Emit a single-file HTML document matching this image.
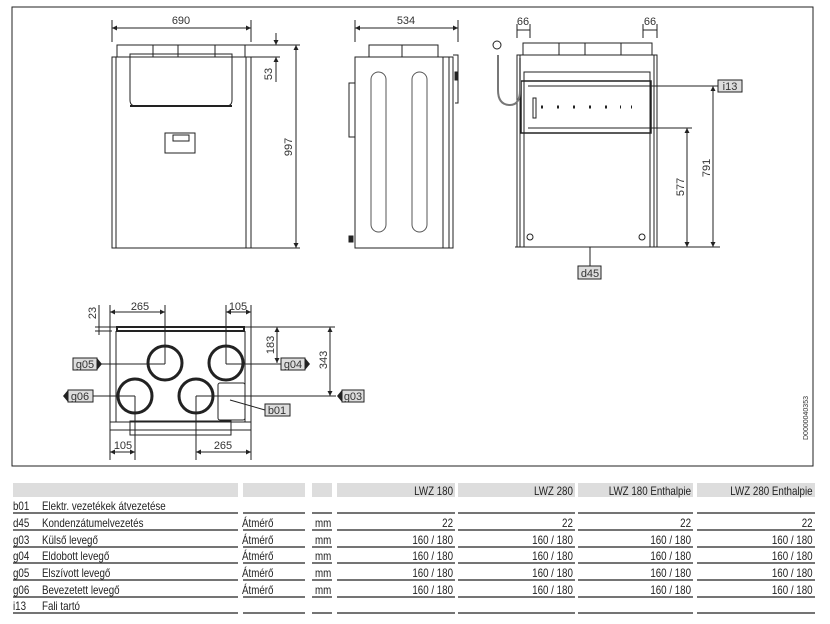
<!DOCTYPE html>
<html><head><meta charset="utf-8"><style>
body{margin:0;background:#fff;width:830px;height:624px;overflow:hidden}
svg{position:absolute;left:0;top:0}
.t{font-family:"Liberation Sans",sans-serif;font-size:11.5px;fill:#222}
.d{font-family:"Liberation Sans",sans-serif;font-size:11px;fill:#333}
</style></head><body>
<svg width="830" height="624" viewBox="0 0 830 624" xmlns="http://www.w3.org/2000/svg">
<defs><marker id="a" viewBox="0 0 6 6" refX="6" refY="3" markerWidth="5" markerHeight="5" orient="auto-start-reverse"><path d="M0,0L6,3L0,6z" fill="#222"/></marker></defs>
<g fill="none" stroke="#222" stroke-width="1">
<rect x="12" y="7" width="801" height="459"/>
<rect x="117" y="45" width="128" height="12"/>
<line x1="153" y1="45" x2="153" y2="57"/><line x1="178" y1="45" x2="178" y2="57"/><line x1="215" y1="45" x2="215" y2="57"/>
<rect x="112" y="57" width="139" height="191"/>
<line x1="116" y1="57" x2="116" y2="248"/><line x1="246" y1="57" x2="246" y2="248"/>
<path d="M130,54H232V100Q232,106 226,106H136Q130,106 130,100Z"/>
<line x1="130" y1="106" x2="232" y2="106" stroke-width="2"/>
<rect x="165" y="133" width="30" height="20"/><rect x="173" y="135" width="16" height="6"/>
<line x1="112" y1="20" x2="112" y2="42"/><line x1="251" y1="20" x2="251" y2="42"/>
<line x1="112" y1="28" x2="251" y2="28" marker-start="url(#a)" marker-end="url(#a)"/>
<line x1="245" y1="45" x2="300" y2="45"/><line x1="251" y1="57" x2="280" y2="57"/>
<line x1="276" y1="33" x2="276" y2="45" marker-end="url(#a)"/><line x1="276" y1="82" x2="276" y2="57" marker-end="url(#a)"/>
<line x1="251" y1="248" x2="300" y2="248"/>
<line x1="296" y1="45" x2="296" y2="248" marker-start="url(#a)" marker-end="url(#a)"/>
<rect x="369" y="45" width="69" height="12"/><line x1="402" y1="45" x2="402" y2="57"/>
<rect x="355" y="57" width="88" height="191"/>
<rect x="443" y="57" width="6" height="191"/><rect x="449" y="57" width="4" height="191"/>
<path d="M453,55H458V103H455"/>
<rect x="455" y="72" width="3" height="8" fill="#222"/>
<rect x="349" y="83" width="6" height="54"/>
<rect x="349" y="236" width="4" height="6" fill="#222"/>
<rect x="371" y="72" width="15" height="160" rx="7.5" stroke="#555"/>
<rect x="412" y="72" width="15" height="160" rx="7.5" stroke="#555"/>
<line x1="355" y1="20" x2="355" y2="42"/><line x1="458" y1="20" x2="458" y2="42"/>
<line x1="355" y1="28" x2="458" y2="28" marker-start="url(#a)" marker-end="url(#a)"/>
<rect x="523" y="43" width="129" height="12"/>
<line x1="559" y1="43" x2="559" y2="55"/><line x1="585" y1="43" x2="585" y2="55"/><line x1="621" y1="43" x2="621" y2="55"/>
<rect x="517" y="55" width="140" height="192"/>
<line x1="520" y1="55" x2="520" y2="247"/><line x1="654" y1="55" x2="654" y2="247"/>
<rect x="524" y="72" width="126" height="175"/>
<rect x="521" y="81" width="130" height="52" stroke-width="1.5"/>
<line x1="528" y1="86" x2="645" y2="86"/><line x1="528" y1="128" x2="645" y2="128"/>
<rect x="533" y="98" width="3" height="20"/>
<path d="M541,107h2M557,107h2M573,107h2M589,107h2M605,107h2M620,107h1M631,107h1" stroke-width="3"/>
<circle cx="530" cy="237" r="3"/><circle cx="642" cy="237" r="3"/>
<path d="M520,58V90Q520,105 510,105Q498,105 498,90V55" stroke="#777" stroke-width="2"/>
<circle cx="497" cy="45" r="4"/>
<line x1="517" y1="24" x2="517" y2="38"/><line x1="530" y1="24" x2="530" y2="38"/>
<line x1="517" y1="30" x2="530" y2="30"/>
<line x1="643" y1="24" x2="643" y2="38"/><line x1="657" y1="24" x2="657" y2="38"/>
<line x1="643" y1="30" x2="657" y2="30"/>
<line x1="515" y1="247" x2="720" y2="247"/>
<line x1="645" y1="86" x2="718" y2="86"/><line x1="640" y1="128" x2="692" y2="128"/>
<line x1="687" y1="128" x2="687" y2="247" marker-start="url(#a)" marker-end="url(#a)"/>
<line x1="713" y1="86" x2="713" y2="247" marker-start="url(#a)" marker-end="url(#a)"/>
<line x1="590" y1="247" x2="590" y2="266"/>
<rect x="110" y="327" width="141" height="103"/>
<line x1="116" y1="331" x2="116" y2="422"/><line x1="245" y1="331" x2="245" y2="422"/>
<rect x="117" y="327" width="127" height="4" stroke-width="2"/>
<line x1="110" y1="422" x2="251" y2="422"/>
<rect x="130" y="421" width="101" height="14"/>
<g stroke-width="3"><circle cx="165" cy="363" r="17"/><circle cx="226" cy="363" r="17"/><circle cx="135" cy="396" r="17"/><circle cx="196" cy="396" r="17"/></g>
<rect x="218" y="383" width="27" height="37" rx="2"/>
<line x1="98" y1="364" x2="165" y2="364"/><line x1="165" y1="305" x2="165" y2="364"/>
<line x1="226" y1="305" x2="226" y2="364"/><line x1="226" y1="364" x2="281" y2="364"/>
<line x1="93" y1="396" x2="135" y2="396"/><line x1="135" y1="396" x2="135" y2="460"/>
<line x1="196" y1="396" x2="336" y2="396"/><line x1="196" y1="396" x2="196" y2="460"/>
<line x1="230" y1="400" x2="265" y2="410"/>
<line x1="110" y1="305" x2="110" y2="460"/><line x1="251" y1="305" x2="251" y2="460"/>
<line x1="110" y1="312" x2="165" y2="312" marker-start="url(#a)" marker-end="url(#a)"/>
<line x1="226" y1="312" x2="251" y2="312" marker-start="url(#a)" marker-end="url(#a)"/>
<line x1="110" y1="452" x2="135" y2="452" marker-start="url(#a)" marker-end="url(#a)"/>
<line x1="196" y1="452" x2="251" y2="452" marker-start="url(#a)" marker-end="url(#a)"/>
<line x1="95" y1="327" x2="335" y2="327"/><line x1="95" y1="331" x2="112" y2="331"/>
<line x1="99" y1="305" x2="99" y2="335"/>
<line x1="277" y1="327" x2="277" y2="363" marker-start="url(#a)" marker-end="url(#a)"/>
<line x1="330" y1="327" x2="330" y2="396" marker-start="url(#a)" marker-end="url(#a)"/>
<g stroke="#222" stroke-width="1.3">
<path d="M13,513H238M243,513H305M312,513H332M337,513H455M458,513H575M578,513H693M697,513H815"/>
<path d="M13,530H238M243,530H305M312,530H332M337,530H455M458,530H575M578,530H693M697,530H815"/>
<path d="M13,547H238M243,547H305M312,547H332M337,547H455M458,547H575M578,547H693M697,547H815"/>
<path d="M13,563H238M243,563H305M312,563H332M337,563H455M458,563H575M578,563H693M697,563H815"/>
<path d="M13,580H238M243,580H305M312,580H332M337,580H455M458,580H575M578,580H693M697,580H815"/>
<path d="M13,597H238M243,597H305M312,597H332M337,597H455M458,597H575M578,597H693M697,597H815"/>
<path d="M13,613H238M243,613H305M312,613H332M337,613H455M458,613H575M578,613H693M697,613H815"/>
</g>
</g>
<g fill="#ddd" stroke="#222">
<rect x="718" y="80" width="24" height="12"/><rect x="578" y="266" width="23" height="13"/>
<rect x="73" y="358" width="24" height="12"/><rect x="281" y="358" width="24" height="12"/>
<rect x="68" y="390" width="25" height="12"/><rect x="342" y="390" width="22" height="12"/>
<rect x="265" y="404" width="25" height="12"/>
</g>
<g fill="#222"><path d="M97,358L102,364L97,370z"/><path d="M305,358L310,364L305,370z"/><path d="M68,390L63,396L68,402z"/><path d="M342,390L337,396L342,402z"/></g>
<g class="d">
<text x="181" y="24" text-anchor="middle">690</text>
<text x="406" y="24" text-anchor="middle">534</text>
<text x="523" y="25" text-anchor="middle">66</text>
<text x="650" y="25" text-anchor="middle">66</text>
<text x="140" y="310" text-anchor="middle">265</text>
<text x="238" y="310" text-anchor="middle">105</text>
<text x="123" y="449" text-anchor="middle">105</text>
<text x="223" y="449" text-anchor="middle">265</text>
<text transform="translate(272,74) rotate(-90)" text-anchor="middle">53</text>
<text transform="translate(292,147) rotate(-90)" text-anchor="middle">997</text>
<text transform="translate(684,187) rotate(-90)" text-anchor="middle">577</text>
<text transform="translate(710,168) rotate(-90)" text-anchor="middle">791</text>
<text transform="translate(274,345) rotate(-90)" text-anchor="middle">183</text>
<text transform="translate(327,360) rotate(-90)" text-anchor="middle">343</text>
<text transform="translate(96,313) rotate(-90)" text-anchor="middle">23</text>
<text x="730" y="90" text-anchor="middle">i13</text><text x="590" y="277" text-anchor="middle">d45</text>
<text x="85" y="368" text-anchor="middle">g05</text><text x="293" y="368" text-anchor="middle">g04</text>
<text x="80" y="400" text-anchor="middle">g06</text><text x="353" y="400" text-anchor="middle">g03</text>
<text x="277" y="414" text-anchor="middle">b01</text>
</g>
<text transform="translate(808,418) rotate(-90)" text-anchor="middle" style="font-family:'Liberation Sans',sans-serif;font-size:7px;fill:#333">D0000040353</text>
<g fill="#ddd"><rect x="13" y="483" width="225" height="14"/><rect x="243" y="483" width="62" height="14"/><rect x="312" y="483" width="20" height="14"/><rect x="337" y="483" width="118" height="14"/><rect x="458" y="483" width="117" height="14"/><rect x="578" y="483" width="115" height="14"/><rect x="697" y="483" width="118" height="14"/></g>
<g class="t" transform="scale(0.85,1)">
<g text-anchor="end"><text x="533" y="495">LWZ 180</text><text x="674" y="495">LWZ 280</text><text x="813" y="495">LWZ 180 Enthalpie</text><text x="956" y="495">LWZ 280 Enthalpie</text></g>
<text x="15.3" y="510">b01</text><text x="49.4" y="510">Elektr. vezetékek átvezetése</text>
<text x="15.3" y="527">d45</text><text x="49.4" y="527">Kondenzátumelvezetés</text>
<text x="15.3" y="544">g03</text><text x="49.4" y="544">Külső levegő</text>
<text x="15.3" y="560">g04</text><text x="49.4" y="560">Eldobott levegő</text>
<text x="15.3" y="577">g05</text><text x="49.4" y="577">Elszívott levegő</text>
<text x="15.3" y="594">g06</text><text x="49.4" y="594">Bevezetett levegő</text>
<text x="15.3" y="610">i13</text><text x="49.4" y="610">Fali tartó</text>
<g><text x="284.7" y="527">Átmérő</text><text x="284.7" y="544">Átmérő</text><text x="284.7" y="560">Átmérő</text><text x="284.7" y="577">Átmérő</text><text x="284.7" y="594">Átmérő</text></g>
<g><text x="370.6" y="527">mm</text><text x="370.6" y="544">mm</text><text x="370.6" y="560">mm</text><text x="370.6" y="577">mm</text><text x="370.6" y="594">mm</text></g>
<g text-anchor="end">
<text x="533" y="527">22</text><text x="674" y="527">22</text><text x="813" y="527">22</text><text x="956" y="527">22</text>
<text x="533" y="544">160 / 180</text><text x="674" y="544">160 / 180</text><text x="813" y="544">160 / 180</text><text x="956" y="544">160 / 180</text>
<text x="533" y="560">160 / 180</text><text x="674" y="560">160 / 180</text><text x="813" y="560">160 / 180</text><text x="956" y="560">160 / 180</text>
<text x="533" y="577">160 / 180</text><text x="674" y="577">160 / 180</text><text x="813" y="577">160 / 180</text><text x="956" y="577">160 / 180</text>
<text x="533" y="594">160 / 180</text><text x="674" y="594">160 / 180</text><text x="813" y="594">160 / 180</text><text x="956" y="594">160 / 180</text>
</g>
</g>
</svg>
</body></html>
